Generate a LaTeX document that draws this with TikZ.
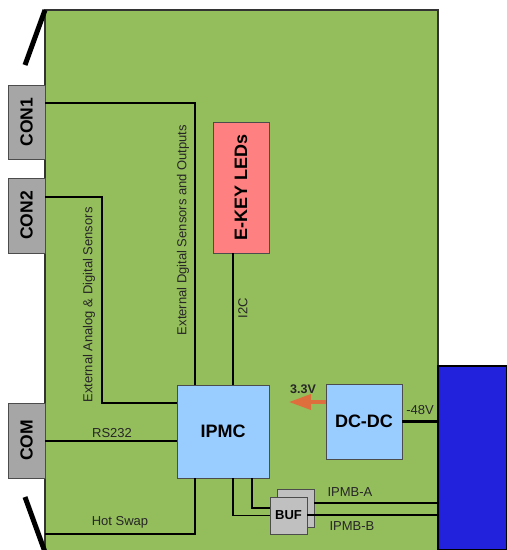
\documentclass[tikz,border=0pt]{standalone}
\usepackage{fontspec}
\setmainfont{Liberation Sans}
\usetikzlibrary{arrows.meta}

\definecolor{boardgreen}{RGB}{148,189,92}
\definecolor{ledpink}{RGB}{255,128,128}
\definecolor{chipblue}{RGB}{153,204,255}
\definecolor{congray}{RGB}{166,166,166}
\definecolor{bufgray}{RGB}{192,192,192}
\definecolor{bpblue}{RGB}{34,34,221}
\definecolor{arroworange}{RGB}{222,110,60}

\tikzset{
  blk/.style={draw=black!70, line width=0.8pt, inner sep=0pt, outer sep=0pt},
  big/.style={font=\fontsize{18}{20}\selectfont\bfseries},
  wire/.style={black, line width=1.3pt},
  lbl/.style={font=\fontsize{13}{15}\selectfont, text=black!85, inner sep=0pt},
}

\begin{document}
\begin{tikzpicture}[x=1pt,y=-1pt]
\useasboundingbox (0,0) rectangle (507,550);

% board and handles
\fill[boardgreen] (45,10) rectangle (438,550);
\draw[black!80, line width=1.5pt] (45,550) -- (45,10) -- (438,10) -- (438,550);
\draw[line width=5pt] (45,10) -- (25,65);
\draw[line width=5pt] (25,497) -- (45,552);

% backplane
\node (bp) at (472.5,458) [draw=black, line width=1.2pt, fill=bpblue, inner sep=0pt, minimum width=69pt, minimum height=184pt]{};

% connectors on the front
\node (con1) at (26.5,122) [blk, fill=congray, minimum width=37pt, minimum height=74pt, font=\fontsize{17.5}{20}\selectfont\bfseries]{\rotatebox{90}{CON1}};
\node (con2) at (26.5,215.5) [blk, fill=congray, minimum width=37pt, minimum height=75pt, font=\fontsize{17.5}{20}\selectfont\bfseries]{\rotatebox{90}{CON2}};
\node (com) at (26.5,440.5) [blk, fill=congray, minimum width=37pt, minimum height=75pt, font=\fontsize{17.5}{20}\selectfont\bfseries]{\rotatebox{90}{COM}};

% blocks
\node (ipmc) at (223,431.5) [blk, big, fill=chipblue, minimum width=92pt, minimum height=93pt]{IPMC};
\node (leds) at (241,187.5) [blk, big, fill=ledpink, minimum width=56pt, minimum height=131pt]{\rotatebox{90}{E-KEY LEDs}};
\node (dcdc) at (364,421.5) [blk, big, fill=chipblue, minimum width=76pt, minimum height=75pt]{DC-DC};
\node (bufback) at (295.5,508) [blk, fill=bufgray, minimum width=37pt, minimum height=38pt]{};
\node (buf) at (288.5,515.5) [blk, fill=bufgray, minimum width=37pt, minimum height=37pt, font=\fontsize{13}{15}\selectfont\bfseries]{BUF};

% wires
\draw[wire] (con1.east |- 0,103) -| (ipmc.north -| 195,0);
\draw[wire] (con2.east |- 0,197) -| (102,403) -- (ipmc.west |- 0,403);
\draw[wire] (com.east |- 0,441) -- (ipmc.west |- 0,441);
\draw[wire] (ipmc.south -| 195,0) |- (com.east |- 0,534);
\draw[wire] (leds.south -| 233,0) -- (ipmc.north -| 233,0);
\draw[wire] (ipmc.south -| 252,0) |- (buf.west |- 0,508);
\draw[wire] (ipmc.south -| 233,0) |- (buf.west);
\draw[wire] (bufback.east |- 0,503) -- (bp.west |- 0,503);
\draw[wire] (buf.east |- 0,515) -- (bp.west |- 0,515);
\draw[line width=3pt] (dcdc.east) -- (bp.west |- dcdc.east);

\coordinate (v33tip) at (289,402);
\draw[arroworange, line width=3.5pt, -{Triangle[length=22pt,width=15pt]}] ([yshift=19.5pt]dcdc.west) -- (v33tip);

% labels
\node (lanalog) at (89,305) [lbl, rotate=90]{External Analog \& Digital Sensors};
\node (ldigital) at (183,230) [lbl, rotate=90]{External Dgital Sensors and Outputs};
\node (li2c) at (243,308) [lbl, rotate=90]{I2C};
\node (lrs) at (112,433) [lbl]{RS232};
\node (lhot) at (120,522) [lbl]{Hot Swap};
\node (lipmba) at (350,492) [lbl]{IPMB-A};
\node (lipmbb) at (352,526) [lbl]{IPMB-B};
\node (l48) at (420,410) [lbl]{-48V};
\node (l33) at (303,389) [lbl, font=\fontsize{12.5}{14}\selectfont\bfseries]{3.3V};

\end{tikzpicture}
\end{document}
